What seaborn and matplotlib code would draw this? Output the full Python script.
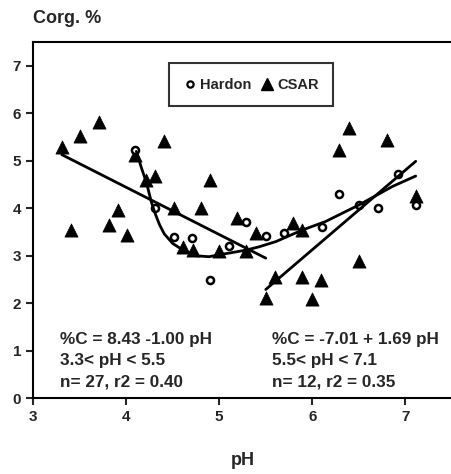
import pandas as pd
import matplotlib.pyplot as plt
import seaborn as sns
from matplotlib.ticker import MultipleLocator

# Hardon samples (open circles)
hardon_ph = [4.10, 4.31, 4.51, 4.71, 4.90, 5.11, 5.29, 5.50, 5.70, 6.10, 6.29, 6.50, 6.70, 6.92, 7.11]
hardon_c = [5.22, 4.00, 3.39, 3.38, 2.49, 3.21, 3.72, 3.42, 3.49, 3.61, 4.30, 4.07, 4.01, 4.72, 4.07]

# CSAR samples (filled triangles)
csar_ph = [3.31, 3.41, 3.51, 3.71, 3.82, 3.91, 4.01, 4.10, 4.21, 4.31, 4.41, 4.51, 4.61,
           4.72, 4.80, 4.90, 5.00, 5.19, 5.29, 5.39, 5.50, 5.60, 5.79, 5.89, 5.89, 6.00,
           6.09, 6.29, 6.39, 6.50, 6.80, 7.11]
csar_c = [5.30, 3.54, 5.53, 5.81, 3.65, 3.97, 3.44, 5.12, 4.60, 4.68, 5.42, 4.00, 3.19,
          3.12, 4.00, 4.60, 3.09, 3.79, 3.09, 3.47, 2.10, 2.56, 3.70, 3.54, 2.56, 2.08,
          2.49, 5.23, 5.69, 2.88, 5.44, 4.25]

# smooth curve
curve_ph = [4.11, 4.16, 4.22, 4.27, 4.31, 4.36, 4.41, 4.50, 4.61, 4.75, 4.89, 5.00,
            5.29, 5.43, 5.61, 5.89, 6.14, 6.50, 6.86, 7.11]
curve_c = [5.20, 4.88, 4.53, 4.14, 3.90, 3.65, 3.46, 3.26, 3.12, 3.00, 2.98, 3.02,
           3.12, 3.19, 3.30, 3.54, 3.72, 4.07, 4.46, 4.68]

# regression lines (end points)
left_ph = [3.31, 5.50]
left_c = [5.13, 2.95]
right_ph = [5.50, 7.11]
right_c = [2.29, 4.99]

eq_left = ["%C = 8.43 -1.00 pH", "3.3< pH < 5.5", "n= 27, r2 = 0.40"]
eq_right = ["%C = -7.01 + 1.69 pH", "5.5< pH < 7.1", "n= 12, r2 = 0.35"]

sns.set_style("ticks")
plt.rcParams["font.family"] = ["Liberation Sans", "DejaVu Sans"]
plt.rcParams["font.weight"] = "bold"

df = pd.concat([
    pd.DataFrame({"pH": hardon_ph, "C": hardon_c, "src": "Hardon"}),
    pd.DataFrame({"pH": csar_ph, "C": csar_c, "src": "CSAR"}),
])

fig = plt.figure(figsize=(4.52, 4.74), dpi=100)
ax = fig.add_axes([0.073, 0.160, 0.927, 0.751])

for xs, ys in [(curve_ph, curve_c), (left_ph, left_c), (right_ph, right_c)]:
    sns.lineplot(x=xs, y=ys, ax=ax, color="black", lw=2, sort=False,
                 estimator=None, legend=False)

sns.scatterplot(data=df[df.src == "CSAR"], x="pH", y="C", ax=ax, marker="^",
                color="black", s=90, edgecolor="black", linewidth=0.5, legend=False)
sns.scatterplot(data=df[df.src == "Hardon"], x="pH", y="C", ax=ax, marker="o",
                facecolor="white", edgecolor="black", s=26, linewidth=1.8, legend=False)

h1 = plt.Line2D([], [], marker="o", ls="", mfc="white", mec="black", ms=4.5, mew=1.6)
h2 = plt.Line2D([], [], marker="^", ls="", color="black", ms=8)
leg = ax.legend([h1, h2], ["Hardon", "CSAR"], ncol=2, loc="center",
                bbox_to_anchor=(0.52, 0.88), frameon=True, fancybox=False,
                handlelength=0.9, handletextpad=0.25, columnspacing=0.6,
                borderpad=1.0, borderaxespad=0,
                prop={"weight": "bold", "size": 10.5})
leg.get_frame().set_edgecolor("black")
leg.get_frame().set_linewidth(1.5)

for i, (a, b) in enumerate(zip(eq_left, eq_right)):
    y = 1.24 - i * 0.45
    ax.text(3.29, y, a, fontsize=12.3, fontweight="bold", va="center", ha="left")
    ax.text(5.57, y, b, fontsize=12.3, fontweight="bold", va="center", ha="left")

ax.set_xlim(3, 7.5)
ax.set_ylim(0, 7.5)
ax.xaxis.set_major_locator(MultipleLocator(1))
ax.yaxis.set_major_locator(MultipleLocator(1))
ax.tick_params(axis="both", direction="out", width=1.5, length=5, labelsize=11)
for lab in ax.get_xticklabels() + ax.get_yticklabels():
    lab.set_fontweight("bold")
for side in ["left", "bottom", "top"]:
    ax.spines[side].set_linewidth(1.5)
    ax.spines[side].set_color("black")
ax.spines["right"].set_visible(False)
ax.spines["top"].set_visible(True)

ax.set_xlabel("pH", fontsize=13, fontweight="bold", labelpad=20)
ax.set_ylabel("")
fig.text(0.073, 0.962, "Corg. %", fontsize=13, fontweight="bold", ha="left", va="center")

fig.savefig("out.png", dpi=100)
